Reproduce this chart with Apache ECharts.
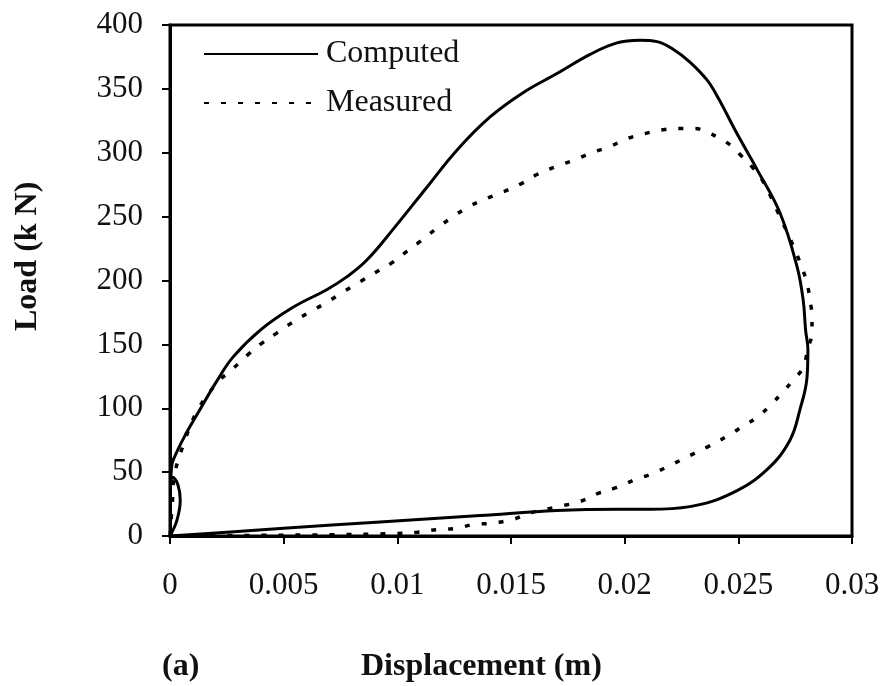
<!DOCTYPE html>
<html>
<head>
<meta charset="utf-8">
<script src="https://cdn.jsdelivr.net/npm/echarts@6/dist/echarts.min.js"></script>
<style>html,body{margin:0;padding:0;background:#fff}#c{width:887px;height:686px}</style>
</head>
<body>
<div id="c"></div>
<script>
var xTickLabels = ['0','0.005','0.01','0.015','0.02','0.025','0.03'];
var yTickLabels = ['0','50','100','150','200','250','300','350','400'];
var seriesNames = ['Computed','Measured'];

var computedX = [0,0.0003,0.00045,0.00035,0.0001,0.00003,0.00006,0.00013,0.0007,0.00132,0.00205,0.00277,0.00396,0.00541,0.00691,0.00779,0.00866,0.00981,0.0113,0.01262,0.01408,0.01553,0.01702,0.01848,0.01966,0.02067,0.02142,0.02213,0.02287,0.02362,0.02411,0.02494,0.02582,0.02683,0.02758,0.02785,0.02796,0.02806,0.02802,0.02771,0.02727,0.02626,0.02477,0.02287,0.02111,0.0198,0.01702,0.01364,0.00924,0.005,0.0025,0];
var computedY = [0,12,28,40,46,42,52,59,80,99,121,140,161,179,193,203,216,240,273,302,328,347,362,377,386,388,387,381,371,357,343,315,287,253,211,185,161,146,124,99,75,52,34,23,21,21,20,16,11,6,3,0];

var measuredX = [0,0.0001,0.0002,0.0006,0.0012,0.00207,0.00251,0.00308,0.00343,0.00405,0.00471,0.00537,0.00611,0.00691,0.00761,0.00836,0.00902,0.00977,0.01043,0.01104,0.01174,0.01245,0.01306,0.01377,0.0146,0.01548,0.01614,0.01694,0.01773,0.01856,0.01936,0.0201,0.02089,0.02169,0.02239,0.02309,0.02362,0.02411,0.02472,0.02516,0.02565,0.02604,0.02642,0.02675,0.02714,0.02749,0.0278,0.02802,0.02815,0.02824,0.02824,0.02806,0.02785,0.02741,0.02692,0.02639,0.02582,0.02521,0.0245,0.02367,0.02287,0.02208,0.02125,0.02045,0.01966,0.01892,0.01804,0.01707,0.01584,0.01509,0.01416,0.01333,0.01262,0.01174,0.01087,0.00999,0.007,0.004,0];
var measuredY = [0,25,48,72,98,120,127,136,142,151,159,167,175,183,191,199,206,214,223,231,241,250,257,263,269,276,283,289,294,300,305,311,315,318,319,319,316,312,305,297,288,279,266,253,238,224,210,198,185,171,159,147,132,122,112,102,93,86,78,70,63,56,49,44,38,34,27,23,18,13,10,9,6,5,3,2,1,0.5,0];

function pairs(xs, ys){ var out=[]; for(var i=0;i<xs.length;i++) out.push([xs[i], ys[i]]); return out; }

var FONT = '"Liberation Serif","Times New Roman",serif';
var chart = echarts.init(document.getElementById('c'), null, {renderer:'canvas'});
chart.setOption({
  animation: false,
  backgroundColor: '#ffffff',
  grid: {left:170, right:35, top:25, bottom:150, show:true, borderColor:'#000', borderWidth:3, backgroundColor:'transparent'},
  legend: {
    orient:'vertical', left:203, top:38, padding:0, itemWidth:114, itemHeight:14, itemGap:17,
    itemStyle:{opacity:0},
    textStyle:{fontFamily:FONT, fontSize:32, color:'#111', padding:[0,0,0,3]},
    data: seriesNames
  },
  xAxis: {
    type:'value', min:0, max:0.03, interval:0.005,
    axisLine:{show:true, lineStyle:{color:'#000', width:3}},
    axisTick:{show:true, inside:false, length:8, lineStyle:{color:'#000', width:2}},
    splitLine:{show:false},
    axisLabel:{margin:34, fontFamily:FONT, fontSize:31, color:'#111',
      formatter:function(v){ return xTickLabels[Math.round(v/0.005)]; }}
  },
  yAxis: {
    type:'value', min:0, max:400, interval:50,
    axisLine:{show:true, lineStyle:{color:'#000', width:3}},
    axisTick:{show:true, inside:false, length:8, lineStyle:{color:'#000', width:2}},
    splitLine:{show:false},
    axisLabel:{margin:27, fontFamily:FONT, fontSize:31, color:'#111',
      formatter:function(v){ return yTickLabels[Math.round(v/50)]; }}
  },
  graphic: [
    {type:'text', left:361, top:651, style:{text:'Displacement (m)', font:'bold 32px "Liberation Serif", serif', fill:'#111'}},
    {type:'text', left:162, top:651, style:{text:'(a)', font:'bold 32px "Liberation Serif", serif', fill:'#111'}},
    {type:'text', x:12, y:331, rotation:Math.PI/2, style:{text:'Load (k N)', font:'bold 32px "Liberation Serif", serif', fill:'#111', textVerticalAlign:'top'}}
  ],
  series: [
    {name:seriesNames[0], type:'line', data:pairs(computedX, computedY), showSymbol:false, symbol:'none', smooth:0.4,
     lineStyle:{color:'#000', width:3, type:'solid'}, itemStyle:{color:'#000'}},
    {name:seriesNames[1], type:'line', data:pairs(measuredX, measuredY), showSymbol:false, symbol:'none', smooth:0.4,
     lineStyle:{color:'#000', width:3.5, type:[5,12]}, itemStyle:{color:'#000'}}
  ]
});
</script>
</body>
</html>
